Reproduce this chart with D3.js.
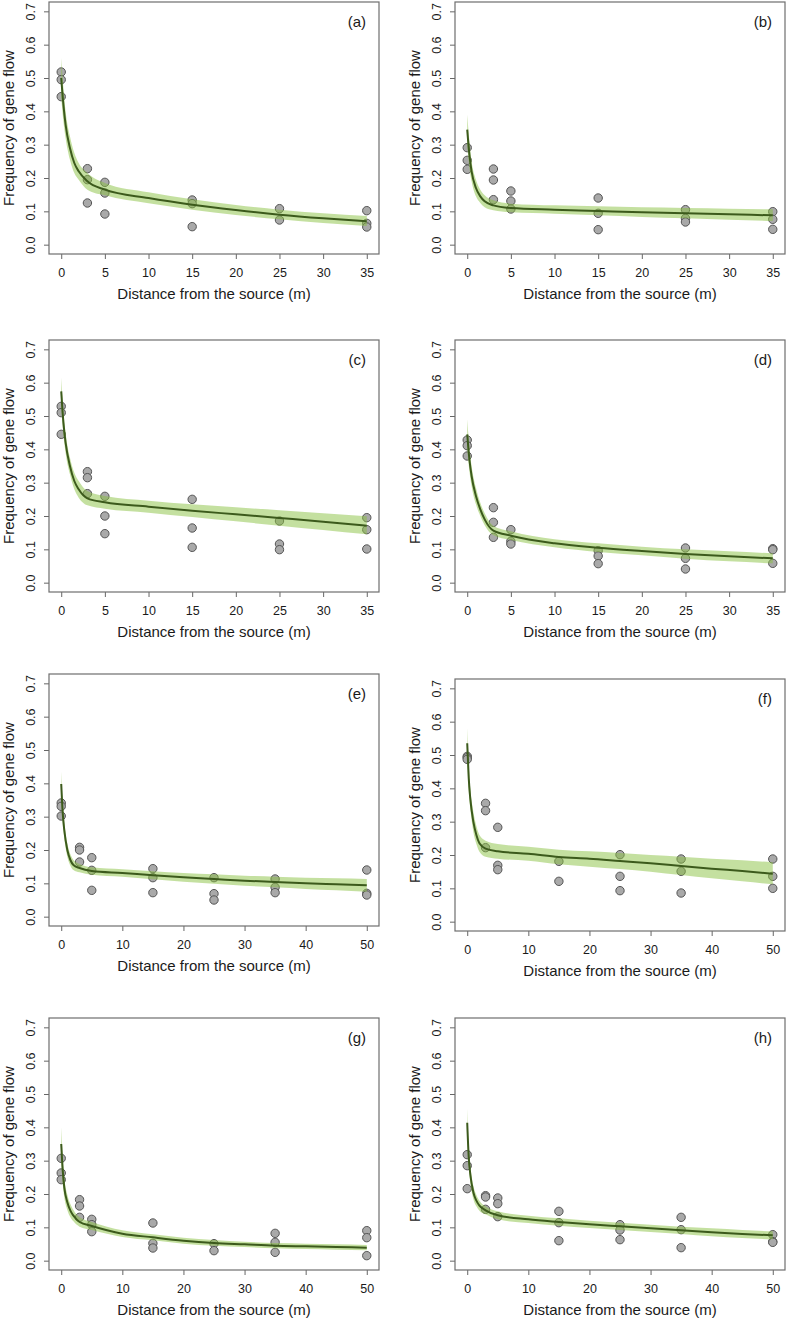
<!DOCTYPE html>
<html>
<head>
<meta charset="utf-8">
<script src="https://cdn.jsdelivr.net/npm/d3@7"></script>
<style>
  html, body { margin: 0; padding: 0; background: #fff; }
  svg { display: block; }
  text { font-family: "Liberation Sans", Arial, sans-serif; fill: #1a1a1a; }
</style>
</head>
<body>
<svg id="chart" width="787" height="1320"></svg>
<script>
// ---------- DATA ----------
const panelLabels = ["(a)", "(b)", "(c)", "(d)", "(e)", "(f)", "(g)", "(h)"];
const xMaxes = [35, 35, 35, 35, 50, 50, 50, 50];
const xTicks35 = [0, 5, 10, 15, 20, 25, 30, 35];
const xTicks50 = [0, 10, 20, 30, 40, 50];
const yTicks = [0, 0.1, 0.2, 0.3, 0.4, 0.5, 0.6, 0.7];
const yTickLabels = ["0.0", "0.1", "0.2", "0.3", "0.4", "0.5", "0.6", "0.7"];
const xTitle = "Distance from the source (m)";
const yTitle = "Frequency of gene flow";

// observed points [distance, frequency]
const obsA = [[0,0.518],[0,0.495],[0,0.444],[3,0.228],[3,0.195],[3,0.125],[5,0.187],[5,0.155],[5,0.092],[15,0.134],[15,0.123],[15,0.054],[25,0.108],[25,0.074],[35,0.102],[35,0.064],[35,0.053]];
const obsB = [[0,0.291],[0,0.253],[0,0.226],[3,0.227],[3,0.194],[3,0.135],[5,0.161],[5,0.131],[5,0.107],[15,0.140],[15,0.094],[15,0.045],[25,0.105],[25,0.079],[25,0.068],[35,0.099],[35,0.076],[35,0.046]];
const obsC = [[0,0.529],[0,0.510],[0,0.445],[3,0.333],[3,0.315],[3,0.267],[5,0.259],[5,0.200],[5,0.147],[15,0.250],[15,0.164],[15,0.106],[25,0.185],[25,0.116],[25,0.099],[35,0.195],[35,0.159],[35,0.101]];
const obsD = [[0,0.428],[0,0.411],[0,0.380],[3,0.225],[3,0.181],[3,0.136],[5,0.159],[5,0.124],[5,0.116],[15,0.096],[15,0.080],[15,0.057],[25,0.104],[25,0.073],[25,0.041],[35,0.102],[35,0.099],[35,0.058]];
const obsE = [[0,0.341],[0,0.331],[0,0.302],[3,0.208],[3,0.200],[3,0.164],[5,0.177],[5,0.139],[5,0.079],[15,0.144],[15,0.117],[15,0.072],[25,0.117],[25,0.069],[25,0.050],[35,0.113],[35,0.088],[35,0.072],[50,0.140],[50,0.070],[50,0.065]];
const obsF = [[0,0.496],[0,0.492],[0,0.487],[3,0.355],[3,0.333],[3,0.222],[5,0.283],[5,0.169],[5,0.156],[15,0.181],[15,0.121],[25,0.201],[25,0.136],[25,0.093],[35,0.188],[35,0.151],[35,0.086],[50,0.188],[50,0.136],[50,0.100]];
const obsG = [[0,0.307],[0,0.263],[0,0.243],[3,0.183],[3,0.164],[3,0.130],[5,0.124],[5,0.108],[5,0.087],[15,0.113],[15,0.052],[15,0.038],[25,0.051],[25,0.030],[35,0.082],[35,0.055],[35,0.025],[50,0.090],[50,0.069],[50,0.015]];
const obsH = [[0,0.318],[0,0.285],[0,0.216],[3,0.195],[3,0.191],[3,0.154],[5,0.188],[5,0.171],[5,0.132],[15,0.148],[15,0.114],[15,0.060],[25,0.108],[25,0.092],[25,0.063],[35,0.130],[35,0.093],[35,0.039],[50,0.078],[50,0.057],[50,0.055]];

// fitted curve and confidence band
const curveX35 = [0, 0.25, 0.5, 1, 1.5, 2, 3, 5, 10, 15, 20, 25, 30, 35];
const curveX50 = [0, 0.25, 0.5, 1, 1.5, 2, 3, 5, 10, 15, 20, 25, 30, 35, 40, 45, 50];

const fitA = [0.50,0.42,0.36,0.29,0.245,0.22,0.19,0.165,0.14,0.12,0.104,0.09,0.079,0.07];
const upA  = [0.56,0.47,0.40,0.325,0.275,0.245,0.215,0.185,0.157,0.136,0.119,0.105,0.094,0.086];
const loA  = [0.44,0.37,0.32,0.255,0.215,0.195,0.165,0.148,0.124,0.105,0.089,0.076,0.065,0.056];

const fitB = [0.345,0.27,0.22,0.17,0.145,0.13,0.118,0.11,0.105,0.101,0.097,0.094,0.091,0.088];
const upB  = [0.39,0.31,0.25,0.195,0.165,0.148,0.133,0.123,0.118,0.115,0.112,0.11,0.108,0.106];
const loB  = [0.30,0.23,0.19,0.145,0.125,0.112,0.103,0.097,0.093,0.088,0.083,0.079,0.075,0.071];

const fitC = [0.574,0.48,0.42,0.35,0.305,0.28,0.253,0.241,0.228,0.216,0.205,0.194,0.183,0.171];
const upC  = [0.615,0.515,0.45,0.375,0.33,0.305,0.275,0.26,0.246,0.235,0.226,0.217,0.208,0.199];
const loC  = [0.53,0.445,0.39,0.325,0.28,0.255,0.232,0.222,0.21,0.197,0.184,0.171,0.158,0.145];

const fitD = [0.445,0.37,0.32,0.26,0.22,0.19,0.156,0.141,0.118,0.105,0.095,0.086,0.079,0.073];
const upD  = [0.49,0.405,0.35,0.285,0.24,0.208,0.17,0.154,0.13,0.118,0.108,0.1,0.094,0.088];
const loD  = [0.40,0.335,0.29,0.235,0.2,0.172,0.142,0.128,0.106,0.092,0.082,0.072,0.064,0.058];

const fitE = [0.398,0.31,0.26,0.2,0.17,0.155,0.146,0.137,0.131,0.124,0.118,0.113,0.108,0.104,0.10,0.097,0.094];
const upE  = [0.435,0.34,0.285,0.22,0.187,0.17,0.158,0.148,0.142,0.136,0.131,0.127,0.123,0.12,0.117,0.115,0.113];
const loE  = [0.36,0.28,0.235,0.18,0.153,0.14,0.133,0.126,0.12,0.112,0.105,0.099,0.093,0.088,0.083,0.079,0.075];

const fitF = [0.535,0.43,0.37,0.30,0.26,0.235,0.219,0.211,0.204,0.194,0.189,0.182,0.175,0.167,0.159,0.152,0.144];
const upF  = [0.58,0.47,0.40,0.33,0.287,0.26,0.243,0.233,0.225,0.216,0.211,0.206,0.2,0.195,0.189,0.184,0.178];
const loF  = [0.49,0.39,0.34,0.27,0.233,0.21,0.195,0.189,0.183,0.172,0.165,0.158,0.15,0.14,0.13,0.121,0.112];

const fitG = [0.35,0.27,0.22,0.175,0.15,0.135,0.116,0.104,0.081,0.07,0.06,0.053,0.049,0.045,0.043,0.041,0.039];
const upG  = [0.40,0.31,0.25,0.198,0.17,0.152,0.13,0.116,0.091,0.079,0.069,0.062,0.057,0.053,0.051,0.049,0.047];
const loG  = [0.30,0.23,0.19,0.152,0.13,0.118,0.102,0.092,0.071,0.061,0.051,0.045,0.041,0.037,0.035,0.033,0.031];

const fitH = [0.414,0.31,0.26,0.205,0.18,0.165,0.151,0.136,0.124,0.116,0.109,0.103,0.097,0.091,0.085,0.080,0.076];
const upH  = [0.455,0.34,0.285,0.225,0.197,0.18,0.163,0.148,0.135,0.127,0.12,0.114,0.108,0.102,0.097,0.092,0.088];
const loH  = [0.375,0.28,0.235,0.185,0.163,0.15,0.139,0.124,0.113,0.105,0.098,0.092,0.086,0.08,0.073,0.068,0.064];

// ---------- LAYOUT ----------
const panels = [
  { obs: obsA, fit: fitA, up: upA, lo: loA, x0: 49,  y0: 2 },
  { obs: obsB, fit: fitB, up: upB, lo: loB, x0: 455, y0: 2 },
  { obs: obsC, fit: fitC, up: upC, lo: loC, x0: 49,  y0: 340 },
  { obs: obsD, fit: fitD, up: upD, lo: loD, x0: 455, y0: 340 },
  { obs: obsE, fit: fitE, up: upE, lo: loE, x0: 49,  y0: 674 },
  { obs: obsF, fit: fitF, up: upF, lo: loF, x0: 455, y0: 679 },
  { obs: obsG, fit: fitG, up: upG, lo: loG, x0: 49,  y0: 1018 },
  { obs: obsH, fit: fitH, up: upH, lo: loH, x0: 455, y0: 1018 }
];
const W = 330, H = 252;

const svg = d3.select("#chart");

panels.forEach((p, i) => {
  const xMax = xMaxes[i];
  const pad = xMax * 0.04;
  const x = d3.scaleLinear().domain([-pad, xMax + pad]).range([0, W]);
  const y = d3.scaleLinear().domain([-0.028, 0.728]).range([H, 0]);
  const cx = xMax === 35 ? curveX35 : curveX50;
  const xt = xMax === 35 ? xTicks35 : xTicks50;

  const g = svg.append("g").attr("transform", `translate(${p.x0},${p.y0})`);

  // points (drawn first, band and line are overlaid)
  g.selectAll("circle.pt").data(p.obs).enter().append("circle")
    .attr("class", "pt")
    .attr("cx", d => x(d[0]))
    .attr("cy", d => y(d[1]))
    .attr("r", 4.2)
    .attr("fill", "#a9a9a9")
    .attr("stroke", "#555")
    .attr("stroke-width", 1);

  // band (semi-transparent)
  const band = cx.map((d, k) => ({ x: d, lo: p.lo[k], up: p.up[k] }));
  g.append("path")
    .datum(band)
    .attr("fill", "#89c141")
    .attr("fill-opacity", 0.5)
    .attr("d", d3.area().x(d => x(d.x)).y0(d => y(d.lo)).y1(d => y(d.up)).curve(d3.curveMonotoneX));

  // fitted line
  const line = cx.map((d, k) => ({ x: d, v: p.fit[k] }));
  g.append("path")
    .datum(line)
    .attr("fill", "none")
    .attr("stroke", "#3c5a1c")
    .attr("stroke-width", 2)
    .attr("d", d3.line().x(d => x(d.x)).y(d => y(d.v)).curve(d3.curveMonotoneX));

  // axes
  const xAxis = g.append("g").attr("transform", `translate(0,${H})`)
    .call(d3.axisBottom(x).tickValues(xt).tickSize(5).tickPadding(6).tickFormat(d3.format("d")));
  xAxis.select(".domain").remove();
  xAxis.selectAll("line").attr("stroke", "#666");
  xAxis.selectAll("text").attr("font-size", 12.5).attr("fill", "#1a1a1a")
    .attr("dy", null).attr("y", 23);

  const yAxis = g.append("g")
    .call(d3.axisLeft(y).tickValues(yTicks).tickSize(5).tickFormat((d, k) => yTickLabels[k]));
  yAxis.select(".domain").remove();
  yAxis.selectAll("line").attr("stroke", "#666");
  yAxis.selectAll("text")
    .attr("font-size", 12.5).attr("fill", "#1a1a1a")
    .attr("x", null).attr("dy", null)
    .attr("text-anchor", "middle")
    .attr("transform", "translate(-14,0) rotate(-90)");

  // box
  g.append("rect").attr("x", 0).attr("y", 0).attr("width", W).attr("height", H)
    .attr("fill", "none").attr("stroke", "#6e6e6e").attr("stroke-width", 1.2);

  // titles
  g.append("text").attr("x", W / 2).attr("y", H + 45)
    .attr("text-anchor", "middle").attr("font-size", 15).text(xTitle);
  g.append("text").attr("transform", `translate(-35,${H / 2}) rotate(-90)`)
    .attr("text-anchor", "middle").attr("font-size", 15).text(yTitle);

  // panel label
  g.append("text").attr("x", W - 13).attr("y", 25)
    .attr("text-anchor", "end").attr("font-size", 15).text(panelLabels[i]);
});
</script>
</body>
</html>
